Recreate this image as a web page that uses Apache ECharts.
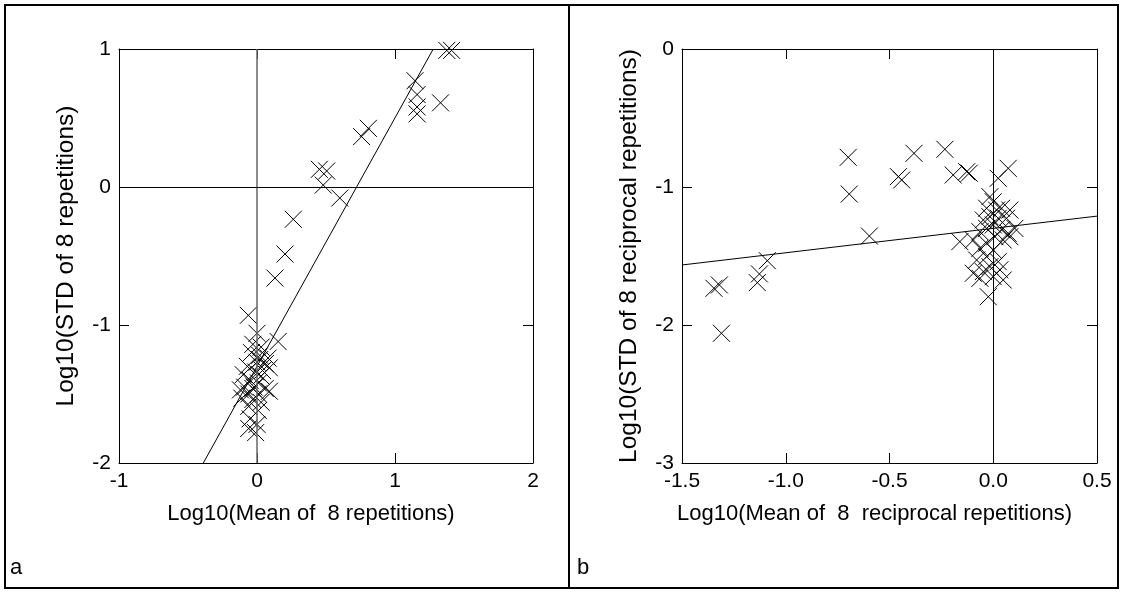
<!DOCTYPE html>
<html>
<head>
<meta charset="utf-8">
<script src="https://cdn.jsdelivr.net/npm/echarts@6/dist/echarts.min.js"></script>
<style>
html,body{margin:0;padding:0;background:#fff;}
#c{width:1121px;height:592px;}
</style>
</head>
<body>
<div id="c"></div>
<script>
// Panel a: Log10(Mean) vs Log10(STD) of 8 repetitions
const pointsA = [
  [1.375, 0.99], [1.41, 0.99],
  [1.145, 0.77], [1.16, 0.67], [1.16, 0.58], [1.16, 0.53], [1.33, 0.61],
  [0.807, 0.425], [0.758, 0.365],
  [0.452, 0.128], [0.505, 0.116], [0.48, 0.014], [0.60, -0.08],
  [0.263, -0.234], [0.203, -0.486], [0.13, -0.66],
  [-0.063, -0.93], [0.153, -1.12],
  [0.0, -1.06], [-0.03, -1.14], [0.03, -1.16], [-0.04, -1.20], [0.02, -1.22],
  [0.08, -1.24], [0.0, -1.27], [0.06, -1.28], [-0.07, -1.30], [0.09, -1.31],
  [-0.01, -1.34], [-0.10, -1.36], [0.03, -1.37], [-0.05, -1.40], [0.01, -1.42],
  [-0.09, -1.45], [-0.03, -1.46], [0.06, -1.46], [-0.12, -1.47], [-0.06, -1.50],
  [0.01, -1.50], [0.09, -1.48], [-0.11, -1.53], [-0.03, -1.54], [0.03, -1.56],
  [-0.06, -1.59], [0.01, -1.62], [-0.05, -1.68], [0.0, -1.72], [-0.06, -1.75],
  [-0.01, -1.78], [0.02, -1.25], [-0.02, -1.45], [0.04, -1.33]
];
const fitA = [[-0.389, -2], [1.277, 1]];
const xTicksA = [-1, 0, 1, 2];
const yTicksA = [-2, -1, 0, 1];

// Panel b: reciprocal repetitions
const pointsB = [
  [-1.346, -1.734], [-1.32, -1.71], [-1.31, -2.06],
  [-1.137, -1.693], [-1.127, -1.63], [-1.089, -1.534],
  [-0.699, -0.785], [-0.694, -1.051], [-0.597, -1.355],
  [-0.457, -0.925], [-0.441, -0.949], [-0.382, -0.756], [-0.233, -0.727],
  [-0.193, -0.913], [-0.128, -0.889], [-0.116, -0.90],
  [0.024, -0.937], [0.072, -0.865], [-0.161, -1.396],
  [-0.016, -1.07], [0.0, -1.107], [0.016, -1.167], [-0.032, -1.154], [0.04, -1.154],
  [0.08, -1.167], [-0.016, -1.215], [0.024, -1.227], [-0.048, -1.239], [0.064, -1.227],
  [0.104, -1.30], [0.0, -1.275], [-0.032, -1.30], [0.04, -1.31], [-0.064, -1.324],
  [0.072, -1.336], [0.008, -1.36], [-0.096, -1.384], [-0.032, -1.408], [0.048, -1.384],
  [-0.064, -1.444], [0.0, -1.457], [0.08, -1.36], [-0.032, -1.505], [-0.08, -1.529],
  [0.024, -1.541], [-0.016, -1.577], [-0.096, -1.625], [-0.048, -1.613], [0.032, -1.60],
  [0.0, -1.65], [0.048, -1.674], [-0.064, -1.662], [-0.024, -1.795]
];
const fitB = [[-1.5, -1.565], [0.5, -1.211]];
const xTicksB = [-1.5, -1.0, -0.5, 0.0, 0.5];
const yTicksB = [-3, -2, -1, 0];

const FONT = 'Liberation Sans, Arial, sans-serif';
const FS = 21;
const FS_X = 22;
const FS_Y = 24.5;
const crossSymbol = 'path://M0 0L10 10M10 0L0 10';

function mainAxis(pos, gridIndex, min, max, interval, name, gap, fmt, nameStyle) {
  return {
    type: 'value', gridIndex, position: pos, min, max, interval,
    name, nameLocation: 'middle', nameGap: gap,
    nameTextStyle: nameStyle,
    axisLine: { show: true, onZero: false, lineStyle: { color: '#000', width: 1 } },
    axisTick: { show: true, inside: true, length: 10, lineStyle: { color: '#000' } },
    axisLabel: { show: true, fontFamily: FONT, fontSize: FS, color: '#000', margin: 8, formatter: fmt },
    splitLine: { show: false }
  };
}
function mirrorAxis(pos, gridIndex, min, max, interval) {
  return {
    type: 'value', gridIndex, position: pos, min, max, interval,
    axisLine: { show: true, onZero: false, lineStyle: { color: '#000', width: 1 } },
    axisTick: { show: true, inside: true, length: 10, lineStyle: { color: '#000' } },
    axisLabel: { show: false }, splitLine: { show: false }
  };
}
const xNameStyle = { fontFamily: FONT, fontSize: FS_X, color: '#000', padding: [0, 30, 0, 0] };
const yNameStyle = { fontFamily: FONT, fontSize: FS_Y, color: '#000' };

const chart = echarts.init(document.getElementById('c'), null, { renderer: 'canvas' });
chart.setOption({
  backgroundColor: '#fff',
  animation: false,
  grid: [
    { left: 119, top: 49, width: 414, height: 414 },
    { left: 682, top: 49, width: 415, height: 414 }
  ],
  xAxis: [
    mainAxis('bottom', 0, xTicksA[0], xTicksA[xTicksA.length - 1], 1,
      'Log10(Mean of  8 repetitions)', 40, v => String(v), xNameStyle),
    mirrorAxis('top', 0, xTicksA[0], xTicksA[xTicksA.length - 1], 1),
    mainAxis('bottom', 1, xTicksB[0], xTicksB[xTicksB.length - 1], 0.5,
      'Log10(Mean of  8  reciprocal repetitions)', 40, v => v.toFixed(1), xNameStyle),
    mirrorAxis('top', 1, xTicksB[0], xTicksB[xTicksB.length - 1], 0.5)
  ],
  yAxis: [
    mainAxis('left', 0, yTicksA[0], yTicksA[yTicksA.length - 1], 1,
      'Log10(STD of 8 repetitions)', 40, v => String(v), yNameStyle),
    mirrorAxis('right', 0, yTicksA[0], yTicksA[yTicksA.length - 1], 1),
    mainAxis('left', 1, yTicksB[0], yTicksB[yTicksB.length - 1], 1,
      'Log10(STD of 8 reciprocal repetitions)', 40, v => String(v), yNameStyle),
    mirrorAxis('right', 1, yTicksB[0], yTicksB[yTicksB.length - 1], 1)
  ],
  series: [
    {
      type: 'scatter', xAxisIndex: 0, yAxisIndex: 0, data: pointsA,
      symbol: crossSymbol, symbolSize: 17,
      itemStyle: { color: 'none', borderColor: '#000', borderWidth: 1, opacity: 1 },
      markLine: {
        silent: true, symbol: ['none', 'none'], label: { show: false },
        data: [
          { xAxis: 0, lineStyle: { color: '#666', width: 1.5, type: 'solid' } },
          { yAxis: 0, lineStyle: { color: '#000', width: 1, type: 'solid' } }
        ]
      },
      z: 3
    },
    {
      type: 'line', xAxisIndex: 0, yAxisIndex: 0, data: fitA,
      showSymbol: false, lineStyle: { color: '#000', width: 1 }, z: 4
    },
    {
      type: 'scatter', xAxisIndex: 2, yAxisIndex: 2, data: pointsB,
      symbol: crossSymbol, symbolSize: 17,
      itemStyle: { color: 'none', borderColor: '#000', borderWidth: 1, opacity: 1 },
      markLine: {
        silent: true, symbol: ['none', 'none'], label: { show: false },
        data: [ { xAxis: 0, lineStyle: { color: '#000', width: 1, type: 'solid' } } ]
      },
      z: 3
    },
    {
      type: 'line', xAxisIndex: 2, yAxisIndex: 2, data: fitB,
      showSymbol: false, lineStyle: { color: '#000', width: 1 }, z: 4
    }
  ],
  graphic: [
    { type: 'rect', shape: { x: 5, y: 5, width: 1113, height: 583 },
      style: { fill: 'none', stroke: '#000', lineWidth: 2 }, silent: true },
    { type: 'line', shape: { x1: 569, y1: 5, x2: 569, y2: 588 },
      style: { stroke: '#000', lineWidth: 2 }, silent: true },
    { type: 'text', left: 10, top: 557,
      style: { text: 'a', fontFamily: FONT, fontSize: FS_X, fill: '#000' } },
    { type: 'text', left: 577, top: 557,
      style: { text: 'b', fontFamily: FONT, fontSize: FS_X, fill: '#000' } }
  ]
});
</script>
</body>
</html>
